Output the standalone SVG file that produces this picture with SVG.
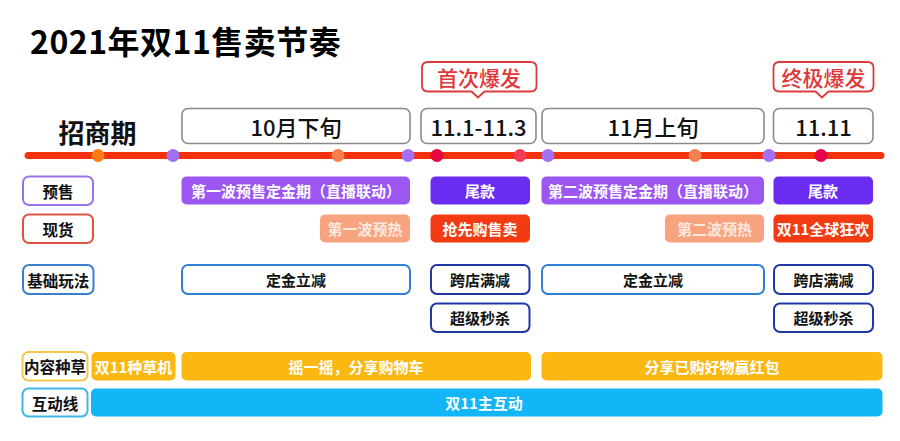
<svg xmlns="http://www.w3.org/2000/svg" width="900" height="441" viewBox="0 0 900 441">
<style>
text{font-family:"Noto Sans CJK SC","Noto Sans",sans-serif;text-anchor:middle;dominant-baseline:central}
.title{font-size:32px;font-weight:700;text-anchor:start;dominant-baseline:alphabetic;fill:#000;letter-spacing:0.5px}
.phase{font-size:26px;font-weight:700;fill:#111}
.hdr{fill:#fff;stroke:#8a8a8a;stroke-width:1.6}
.hdrt{font-size:22px;font-weight:500;fill:#111}
.call{fill:#fff;stroke:#db3b3b;stroke-width:1.8}
.callt{font-size:21px;font-weight:500;fill:#e0373a}
.lab{fill:#fff;stroke-width:2}
.labt{font-size:15.5px;font-weight:700;fill:#111}
.wt{font-size:15px;font-weight:700;fill:#fff}
.pt{font-size:15px;font-weight:700;fill:#fde8dd}
.bt{font-size:15px;font-weight:700;fill:#111}
.purple{fill:#9c56f1}
.violet{fill:#6b2cf1}
.peach{fill:#f7a37f}
.red{fill:#f23b13}
.yellow{fill:#fbb712}
.blue{fill:#12b6f6}
.ob1{fill:#fff;stroke:#2f80d6;stroke-width:2}
.ob2{fill:#fff;stroke:#1f36a6;stroke-width:2}
</style>
<text class="title" x="30" y="54">2021年双11售卖节奏</text>
<g id="connectors">
<line x1="28" y1="155.5" x2="881" y2="155.5" stroke="#f5320d" stroke-width="7" stroke-linecap="round"/>
<circle cx="98" cy="155.5" r="6.5" fill="#f97c14"/>
<circle cx="173" cy="155.5" r="6.5" fill="#a16ff2"/>
<circle cx="338" cy="155.5" r="6.5" fill="#f5804e"/>
<circle cx="408" cy="155.5" r="6.5" fill="#a16ff2"/>
<circle cx="437" cy="155.5" r="6.5" fill="#e6073f"/>
<circle cx="520" cy="155.5" r="6.5" fill="#f23b57"/>
<circle cx="548" cy="155.5" r="6.5" fill="#a16ff2"/>
<circle cx="695" cy="155.5" r="6.5" fill="#f5804e"/>
<circle cx="769" cy="155.5" r="6.5" fill="#a16ff2"/>
<circle cx="821" cy="155.5" r="6.5" fill="#e6074a"/>
</g>
<g id="phase-zhaoshang"><text class="phase" x="97.5" y="131">招商期</text></g>
<g id="hdr-oct"><rect class="hdr" x="182" y="108.5" width="228" height="35" rx="6"/><text class="hdrt" x="296" y="126">10月下旬</text></g>
<g id="hdr-11-1"><rect class="hdr" x="421" y="108.5" width="115" height="35" rx="6"/><text class="hdrt" x="478.5" y="126">11.1-11.3</text></g>
<g id="hdr-nov"><rect class="hdr" x="542" y="108.5" width="222" height="35" rx="6"/><text class="hdrt" x="653" y="126">11月上旬</text></g>
<g id="hdr-1111"><rect class="hdr" x="773.5" y="108.5" width="99.5" height="35" rx="6"/><text class="hdrt" x="823.5" y="126">11.11</text></g>
<g id="callout-first"><path class="call" d="M428 62H530.5Q536.5 62 536.5 68V85.5Q536.5 91.5 530.5 91.5H484.5L478 97.5L471.5 91.5H428Q422 91.5 422 85.5V68Q422 62 428 62Z"/><text class="callt" x="479" y="76.5">首次爆发</text></g>
<g id="callout-final"><path class="call" d="M779.5 62H867.5Q873.5 62 873.5 68V85.5Q873.5 91.5 867.5 91.5H828.5L822 97.5L815.5 91.5H779.5Q773.5 91.5 773.5 85.5V68Q773.5 62 779.5 62Z"/><text class="callt" x="823.5" y="76.5">终极爆发</text></g>
<g id="label-presale"><rect class="lab" x="23" y="176.5" width="70" height="28.5" rx="6" stroke="#9c72ea"/><text class="labt" x="58" y="190.5">预售</text></g>
<g id="label-spot"><rect class="lab" x="23" y="214.5" width="70" height="28.5" rx="6" stroke="#dd5443"/><text class="labt" x="58" y="228.5">现货</text></g>
<g id="label-basic"><rect class="lab" x="23" y="265" width="70.5" height="29" rx="6" stroke="#3a7fcf"/><text class="labt" x="58.2" y="279.5">基础玩法</text></g>
<g id="label-content"><rect class="lab" x="22.5" y="352" width="65" height="28.5" rx="6" stroke="#f3c84a"/><text class="labt" x="55" y="366">内容种草</text></g>
<g id="label-interact"><rect class="lab" x="22.5" y="388.5" width="65" height="28" rx="6" stroke="#3cb8e4"/><text class="labt" x="55" y="402.5">互动线</text></g>
<g id="wave1-presale"><rect class="purple" x="181.5" y="176.5" width="228.5" height="28" rx="5"/><text class="wt" x="296" y="190.5">第一波预售定金期（直播联动）</text></g>
<g id="tail1"><rect class="violet" x="430.5" y="176.5" width="99.5" height="28" rx="5"/><text class="wt" x="480" y="190.5">尾款</text></g>
<g id="wave2-presale"><rect class="purple" x="541.5" y="176.5" width="222.5" height="28" rx="5"/><text class="wt" x="653" y="190.5">第二波预售定金期（直播联动）</text></g>
<g id="tail2"><rect class="violet" x="773.5" y="176.5" width="99.5" height="28" rx="5"/><text class="wt" x="823" y="190.5">尾款</text></g>
<g id="wave1-warm"><rect class="peach" x="320" y="214.5" width="90" height="28" rx="5"/><text class="pt" x="365" y="228.5">第一波预热</text></g>
<g id="early-sale"><rect class="red" x="430.5" y="214.5" width="99.5" height="28" rx="5"/><text class="wt" x="480" y="228.5">抢先购售卖</text></g>
<g id="wave2-warm"><rect class="peach" x="665" y="214.5" width="99" height="28" rx="5"/><text class="pt" x="714.5" y="228.5">第二波预热</text></g>
<g id="global-carnival"><rect class="red" x="773.5" y="214.5" width="99.5" height="28" rx="5"/><text class="wt" x="823" y="228.5">双11全球狂欢</text></g>
<g id="deposit1"><rect class="ob1" x="182" y="265" width="228" height="29" rx="6"/><text class="bt" x="296" y="279.5">定金立减</text></g>
<g id="cross1"><rect class="ob2" x="431" y="265" width="98.5" height="29" rx="6"/><text class="bt" x="480" y="279.5">跨店满减</text></g>
<g id="deposit2"><rect class="ob1" x="542" y="265" width="222" height="29" rx="6"/><text class="bt" x="653" y="279.5">定金立减</text></g>
<g id="cross2"><rect class="ob2" x="774" y="265" width="99" height="29" rx="6"/><text class="bt" x="823.5" y="279.5">跨店满减</text></g>
<g id="flash1"><rect class="ob2" x="431" y="303.5" width="98.5" height="28.5" rx="6"/><text class="bt" x="480" y="317.5">超级秒杀</text></g>
<g id="flash2"><rect class="ob2" x="774" y="303.5" width="99" height="28.5" rx="6"/><text class="bt" x="823.5" y="317.5">超级秒杀</text></g>
<g id="grass-machine"><rect class="yellow" x="91.5" y="352" width="84" height="28.5" rx="5"/><text class="wt" x="133.5" y="366">双11种草机</text></g>
<g id="shake"><rect class="yellow" x="181.5" y="352" width="349.5" height="28.5" rx="5"/><text class="wt" x="356" y="366">摇一摇，分享购物车</text></g>
<g id="share-redpacket"><rect class="yellow" x="541.5" y="352" width="341" height="28.5" rx="5"/><text class="wt" x="712" y="366">分享已购好物赢红包</text></g>
<g id="main-interact"><rect class="blue" x="91" y="388.5" width="791.5" height="28" rx="5"/><text class="wt" x="484" y="402.5">双11主互动</text></g>
</svg>
